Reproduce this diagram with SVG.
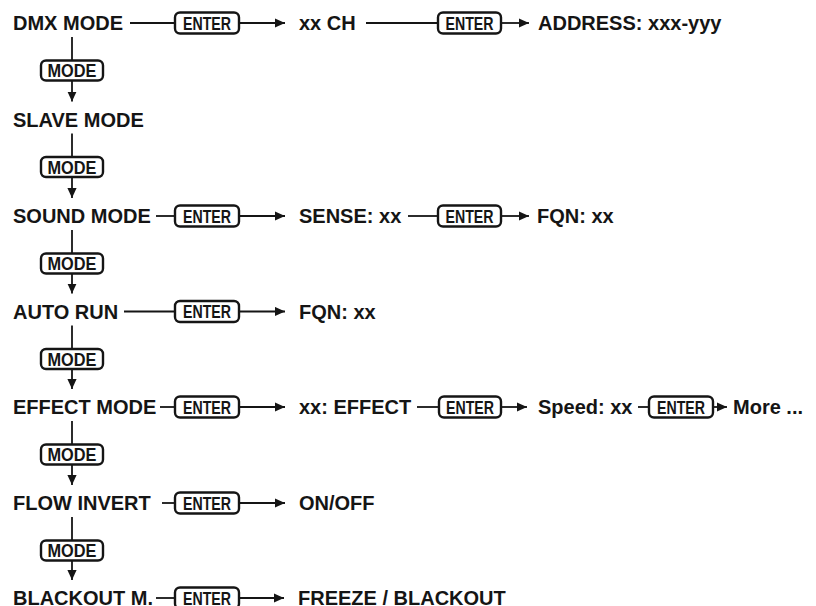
<svg xmlns="http://www.w3.org/2000/svg" width="816" height="606" viewBox="0 0 816 606">
<defs>
<style>
.lbl{font-family:"Liberation Sans",Arial,Helvetica,sans-serif;font-weight:bold;font-size:20px;fill:#151515}
.btn rect{fill:#fff;stroke:#151515;stroke-width:2.4}
.btn text{font-family:"Liberation Sans",Arial,Helvetica,sans-serif;font-weight:bold;font-size:18px;fill:#151515;text-anchor:middle}
.ln{fill:none;stroke:#151515;stroke-width:1.8}
</style>
<marker id="ah" markerUnits="userSpaceOnUse" markerWidth="10" markerHeight="10" viewBox="0 0 10 10" refX="10" refY="5" orient="auto">
<path d="M0,0.4 L10,5 L0,9.6 z" fill="#151515"/>
</marker>
</defs>
<rect width="816" height="606" fill="#fff"/>

<g id="connectors">
<!-- row 0 -->
<line class="ln" x1="130" y1="23" x2="175" y2="23"/>
<line class="ln" x1="239" y1="23" x2="285" y2="23" marker-end="url(#ah)"/>
<line class="ln" x1="366" y1="23" x2="438" y2="23"/>
<line class="ln" x1="501" y1="23" x2="529" y2="23" marker-end="url(#ah)"/>
<!-- row 2 -->
<line class="ln" x1="156" y1="216" x2="175" y2="216"/>
<line class="ln" x1="239" y1="216" x2="285" y2="216" marker-end="url(#ah)"/>
<line class="ln" x1="408" y1="216" x2="438" y2="216"/>
<line class="ln" x1="501" y1="216" x2="529" y2="216" marker-end="url(#ah)"/>
<!-- row 3 -->
<line class="ln" x1="124" y1="311.5" x2="175" y2="311.5"/>
<line class="ln" x1="239" y1="311.5" x2="285" y2="311.5" marker-end="url(#ah)"/>
<!-- row 4 -->
<line class="ln" x1="160" y1="407" x2="175" y2="407"/>
<line class="ln" x1="239" y1="407" x2="285" y2="407" marker-end="url(#ah)"/>
<line class="ln" x1="417" y1="407" x2="439" y2="407"/>
<line class="ln" x1="501" y1="407" x2="527" y2="407" marker-end="url(#ah)"/>
<line class="ln" x1="638" y1="407" x2="649" y2="407"/>
<line class="ln" x1="713" y1="407" x2="727" y2="407" marker-end="url(#ah)"/>
<!-- row 5 -->
<line class="ln" x1="162" y1="503" x2="175" y2="503"/>
<line class="ln" x1="239" y1="503" x2="285" y2="503" marker-end="url(#ah)"/>
<!-- row 6 -->
<line class="ln" x1="156" y1="598" x2="175" y2="598"/>
<line class="ln" x1="239" y1="598" x2="284" y2="598" marker-end="url(#ah)"/>
<!-- vertical MODE chain -->
<line class="ln" x1="72" y1="37" x2="72" y2="60.5"/>
<line class="ln" x1="72" y1="80.5" x2="72" y2="101.5" marker-end="url(#ah)"/>
<line class="ln" x1="72" y1="133.5" x2="72" y2="157"/>
<line class="ln" x1="72" y1="177" x2="72" y2="198" marker-end="url(#ah)"/>
<line class="ln" x1="72" y1="230" x2="72" y2="253.5"/>
<line class="ln" x1="72" y1="273.5" x2="72" y2="293.5" marker-end="url(#ah)"/>
<line class="ln" x1="72" y1="325.5" x2="72" y2="349"/>
<line class="ln" x1="72" y1="369" x2="72" y2="389" marker-end="url(#ah)"/>
<line class="ln" x1="72" y1="421" x2="72" y2="444.5"/>
<line class="ln" x1="72" y1="464.5" x2="72" y2="485" marker-end="url(#ah)"/>
<line class="ln" x1="72" y1="517" x2="72" y2="540.5"/>
<line class="ln" x1="72" y1="560.5" x2="72" y2="580" marker-end="url(#ah)"/>
</g>

<!-- mode states -->
<g id="dmx-mode"><text class="lbl" x="13" y="30.2">DMX MODE</text></g>
<g id="slave-mode"><text class="lbl" x="13" y="126.7">SLAVE MODE</text></g>
<g id="sound-mode"><text class="lbl" x="13" y="223.2">SOUND MODE</text></g>
<g id="auto-run"><text class="lbl" x="13" y="318.7">AUTO RUN</text></g>
<g id="effect-mode"><text class="lbl" x="13" y="414.2">EFFECT MODE</text></g>
<g id="flow-invert"><text class="lbl" x="13" y="510.2">FLOW INVERT</text></g>
<g id="blackout-m"><text class="lbl" x="13" y="605.2">BLACKOUT M.</text></g>

<!-- sub states -->
<g id="xx-ch"><text class="lbl" x="299" y="30.2">xx CH</text></g>
<g id="address"><text class="lbl" x="538" y="30.2">ADDRESS: xxx-yyy</text></g>
<g id="sense"><text class="lbl" x="299" y="223.2">SENSE: xx</text></g>
<g id="fqn-sound"><text class="lbl" x="537" y="223.2">FQN: xx</text></g>
<g id="fqn-auto"><text class="lbl" x="299" y="318.7">FQN: xx</text></g>
<g id="xx-effect"><text class="lbl" x="299" y="414.2">xx: EFFECT</text></g>
<g id="speed"><text class="lbl" x="538" y="414.2">Speed: xx</text></g>
<g id="more"><text class="lbl" x="733" y="414.2">More ...</text></g>
<g id="on-off"><text class="lbl" x="299" y="510.2">ON/OFF</text></g>
<g id="freeze-blackout"><text class="lbl" x="298" y="605.2">FREEZE / BLACKOUT</text></g>

<!-- MODE buttons -->
<g id="mode-btn-1" class="btn"><rect x="41" y="60.5" width="62" height="20" rx="5"/><text x="72" y="77" textLength="49" lengthAdjust="spacingAndGlyphs">MODE</text></g>
<g id="mode-btn-2" class="btn"><rect x="41" y="157" width="62" height="20" rx="5"/><text x="72" y="173.5" textLength="49" lengthAdjust="spacingAndGlyphs">MODE</text></g>
<g id="mode-btn-3" class="btn"><rect x="41" y="253.5" width="62" height="20" rx="5"/><text x="72" y="270" textLength="49" lengthAdjust="spacingAndGlyphs">MODE</text></g>
<g id="mode-btn-4" class="btn"><rect x="41" y="349" width="62" height="20" rx="5"/><text x="72" y="365.5" textLength="49" lengthAdjust="spacingAndGlyphs">MODE</text></g>
<g id="mode-btn-5" class="btn"><rect x="41" y="444.5" width="62" height="20" rx="5"/><text x="72" y="461" textLength="49" lengthAdjust="spacingAndGlyphs">MODE</text></g>
<g id="mode-btn-6" class="btn"><rect x="41" y="540.5" width="62" height="20" rx="5"/><text x="72" y="557" textLength="49" lengthAdjust="spacingAndGlyphs">MODE</text></g>

<!-- ENTER buttons -->
<g id="enter-dmx-1" class="btn"><rect x="175" y="12.5" width="64" height="21" rx="5"/><text x="207" y="29.5" textLength="48" lengthAdjust="spacingAndGlyphs">ENTER</text></g>
<g id="enter-dmx-2" class="btn"><rect x="438" y="12.5" width="63" height="21" rx="5"/><text x="469.5" y="29.5" textLength="48" lengthAdjust="spacingAndGlyphs">ENTER</text></g>
<g id="enter-sound-1" class="btn"><rect x="175" y="205.5" width="64" height="21" rx="5"/><text x="207" y="222.5" textLength="48" lengthAdjust="spacingAndGlyphs">ENTER</text></g>
<g id="enter-sound-2" class="btn"><rect x="438" y="205.5" width="63" height="21" rx="5"/><text x="469.5" y="222.5" textLength="48" lengthAdjust="spacingAndGlyphs">ENTER</text></g>
<g id="enter-auto" class="btn"><rect x="175" y="301" width="64" height="21" rx="5"/><text x="207" y="318" textLength="48" lengthAdjust="spacingAndGlyphs">ENTER</text></g>
<g id="enter-effect-1" class="btn"><rect x="175" y="396.5" width="64" height="21" rx="5"/><text x="207" y="413.5" textLength="48" lengthAdjust="spacingAndGlyphs">ENTER</text></g>
<g id="enter-effect-2" class="btn"><rect x="439" y="396.5" width="62" height="21" rx="5"/><text x="470" y="413.5" textLength="48" lengthAdjust="spacingAndGlyphs">ENTER</text></g>
<g id="enter-effect-3" class="btn"><rect x="649" y="396.5" width="64" height="21" rx="5"/><text x="681" y="413.5" textLength="48" lengthAdjust="spacingAndGlyphs">ENTER</text></g>
<g id="enter-flow" class="btn"><rect x="175" y="492.5" width="64" height="21" rx="5"/><text x="207" y="509.5" textLength="48" lengthAdjust="spacingAndGlyphs">ENTER</text></g>
<g id="enter-blackout" class="btn"><rect x="175" y="587.5" width="64" height="21" rx="5"/><text x="207" y="604.5" textLength="48" lengthAdjust="spacingAndGlyphs">ENTER</text></g>
</svg>
